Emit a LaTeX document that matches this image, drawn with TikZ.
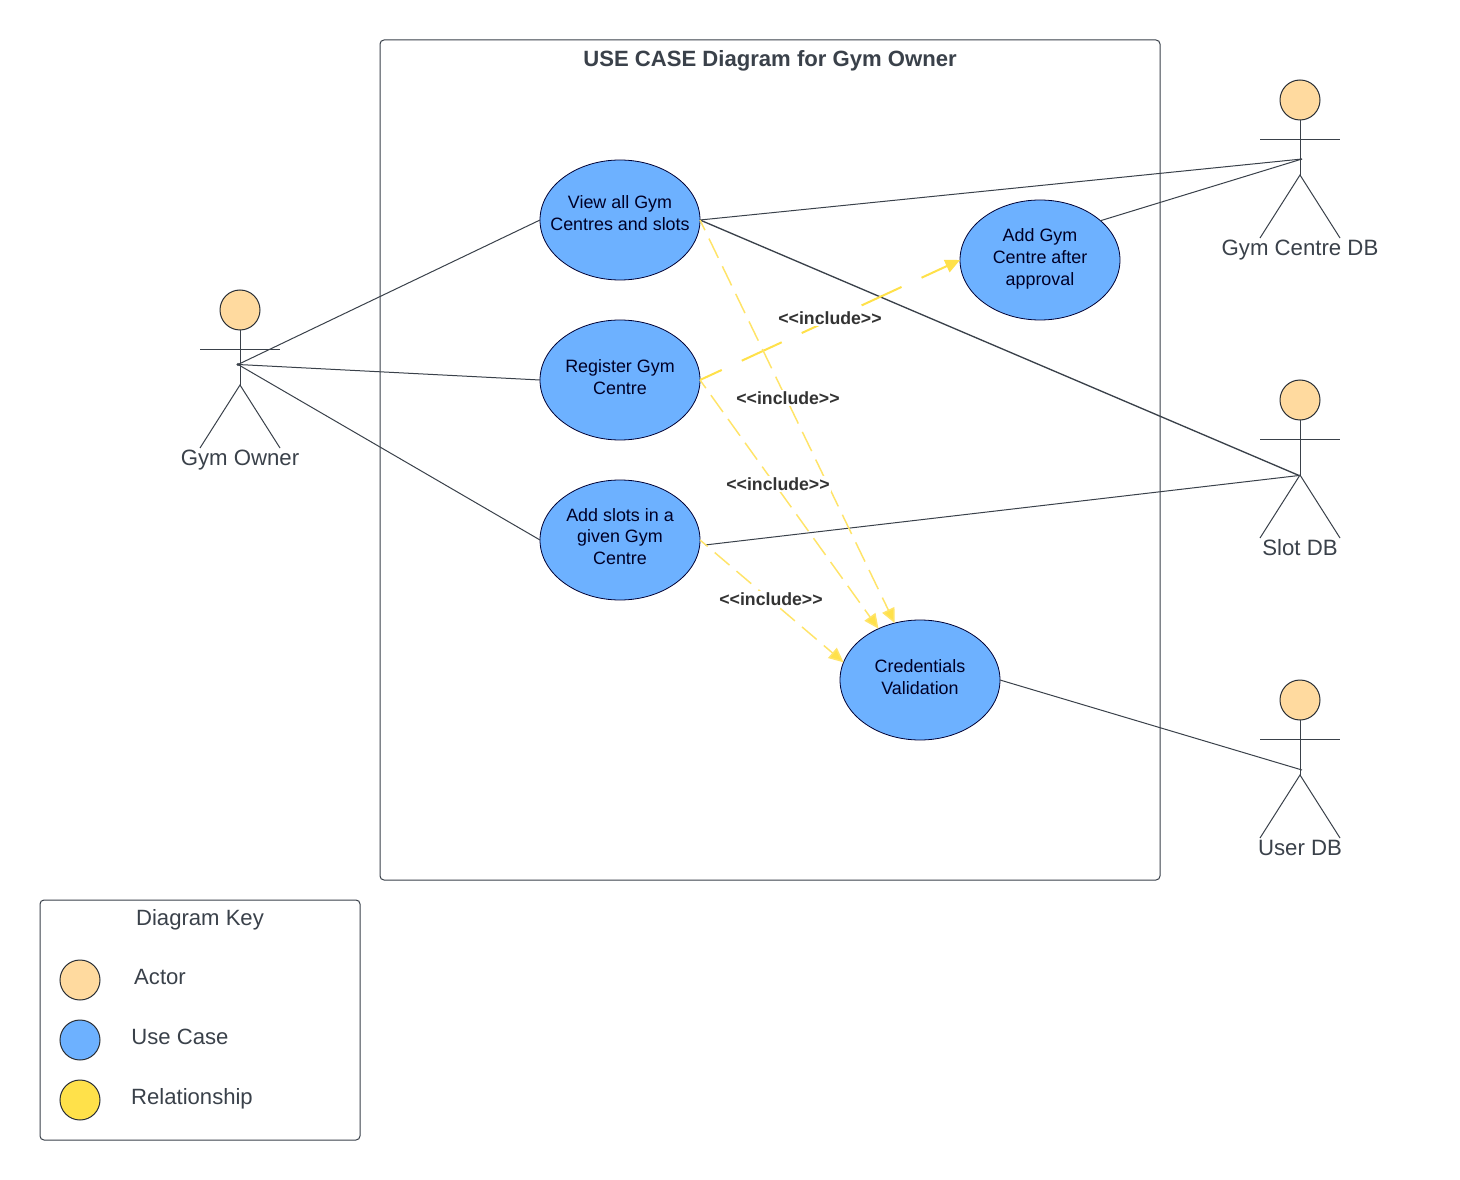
\documentclass[tikz,border=0pt]{standalone}
\usepackage{fontspec}
\setmainfont{Liberation Sans}
\usetikzlibrary{shapes.geometric,arrows.meta}
\definecolor{inkline}{HTML}{3A414A}
\definecolor{inktext}{HTML}{3A414A}
\definecolor{usecasefill}{HTML}{6DB1FF}
\definecolor{actorfill}{HTML}{FFDA9F}
\definecolor{relfill}{HTML}{FFE14A}
\definecolor{relline}{HTML}{FFE468}
\newcommand{\pxfont}[1]{\fontsize{\the\dimexpr #1pt*3/4\relax}{16.4pt}\selectfont}
% text of a use case, in a box of no size, so that the ellipse keeps its size; #1 = lift in px
\newcommand{\uctext}[2]{\makebox[0pt]{\raisebox{\dimexpr #1pt*3/4-5.1pt\relax}[0pt][0pt]{\begin{tabular}{@{}c@{}}#2\end{tabular}}}}
\tikzset{
  x=0.75pt,y=-0.75pt,
  every node/.style={outer sep=0pt,inner sep=0pt},
  wire/.style={draw=inkline,line width=0.75pt},
  frame/.style={draw=inkline,line width=0.75pt,rounded corners=3pt},
  usecase/.style={ellipse,draw=black!80!blue,line width=0.6pt,fill=usecasefill,minimum width=120pt,minimum height=90pt,text=black!85!blue,font=\pxfont{17.9}},
  head/.style={circle,draw=inkline!70!black,line width=0.75pt,fill=actorfill,minimum size=30pt},
  actorlabel/.style={text=inktext,font=\pxfont{22.2}},
  keylabel/.style={text=inktext,font=\pxfont{22.1}},
  rel/.style={draw=relline,line width=1.1pt,-{Triangle[length=11pt,width=10pt,fill=relfill]}},
  inc/.style={fill=white,inner sep=1pt,text=black!80,font=\pxfont{17.7}\bfseries},
}
\begin{document}
\begin{tikzpicture}
\useasboundingbox[fill=white] (0,0) rectangle (1460,1180);
% frames
\node[frame,minimum width=585pt,minimum height=630pt] (sys) at (770,460) {};
\node[frame,minimum width=240pt,minimum height=180pt] (key) at (200,1020) {};
\node[text=inktext,font=\pxfont{22.1}\bfseries] (title) at (770,60.5) {USE CASE Diagram for Gym Owner};
% use cases
\node[usecase] (view) at (620,220) {\uctext{7}{View all Gym\\Centres and slots}};
\node[usecase] (reg) at (620,380) {\uctext{3}{Register Gym\\Centre}};
\node[usecase] (slots) at (620,540) {\uctext{3.5}{Add slots in a\\given Gym\\Centre}};
\node[usecase] (addgym) at (1040,260) {\uctext{2.7}{Add Gym\\Centre after\\approval}};
\node[usecase] (cred) at (920,680) {\uctext{3}{Credentials\\Validation}};
% actors
\node[head] (oh) at (240,310) {};
\coordinate (ob) at (240,385);
\coordinate (oc) at (238,364.5);
\draw[wire] (oh.south) -- (ob) (200,349.5) coordinate (ola) -- (280,349.5) coordinate (ora);
\draw[wire] (200,448) coordinate (oll) -- (ob) -- (280,448) coordinate (orl);
\node[actorlabel] (ol) at (240,460) {Gym Owner};

\node[head] (gh) at (1300,100) {};
\coordinate (gb) at (1300,175);
\coordinate (gc) at (1302,159);
\draw[wire] (gh.south) -- (gb) (1260,139.5) coordinate (gla) -- (1340,139.5) coordinate (gra);
\draw[wire] (1260,238) coordinate (gll) -- (gb) -- (1340,238) coordinate (grl);
\node[actorlabel] (gl) at (1300,250) {Gym Centre DB};

\node[head] (sh) at (1300,400) {};
\coordinate (sb) at (1300,475);
\coordinate (sc) at (1299,475.5);
\draw[wire] (sh.south) -- (sb) (1260,439.5) coordinate (sla) -- (1340,439.5) coordinate (sra);
\draw[wire] (1260,538) coordinate (sll) -- (sb) -- (1340,538) coordinate (srl);
\node[actorlabel] (sl) at (1300,548) {Slot DB};

\node[head] (uh) at (1300,700) {};
\coordinate (ub) at (1300,775);
\coordinate (uc) at (1302,770);
\draw[wire] (uh.south) -- (ub) (1260,739.5) coordinate (ula) -- (1340,739.5) coordinate (ura);
\draw[wire] (1260,838) coordinate (ull) -- (ub) -- (1340,838) coordinate (url);
\node[actorlabel] (ul) at (1300,848) {User DB};
% associations
\fill[inkline] (oc) circle (1.2pt);
\draw[wire] (oc) -- (view.west);
\draw[wire] (oc) -- (reg.west);
\draw[wire] (oc) -- (slots.west);
\draw[wire] (view.east) -- (gc);
\draw[wire,line width=1pt] (view.east) -- (sc);
\draw[wire] (addgym.33) -- (gc);
\coordinate (slotsout) at (705,545);
\draw[wire] (slotsout) -- (sc);
\draw[wire] (cred.east) -- (uc);
% includes
\draw[rel,line width=1.5pt,draw=relfill,dash pattern=on 33pt off 16.5pt,dash phase=15pt] (reg.east) -- (addgym.west);
\draw[rel,dash pattern=on 16pt off 7pt,dash phase=7.5pt] (view.east) -- (cred.114);
\draw[rel,dash pattern=on 15.5pt off 6.5pt,dash phase=8pt] (reg.east) -- (cred.129.5);
\draw[rel,dash pattern=on 14.5pt off 7pt,dash phase=7pt] (slots.east) -- (cred.167.7);
\node[inc] (i1) at (830,318) {{<}{<}include{>}{>}};
\node[inc] (i2) at (788,398) {{<}{<}include{>}{>}};
\node[inc] (i3) at (778,484) {{<}{<}include{>}{>}};
\node[inc] (i4) at (771,599) {{<}{<}include{>}{>}};
% key
\node[keylabel] (kt) at (200,920) {Diagram Key};
\node[head] (k1) at (80,980) {};
\node[head,fill=usecasefill] (k2) at (80,1040) {};
\node[head,fill=relfill] (k3) at (80,1100) {};
\node[keylabel] (kl1) at (160,977) {Actor};
\node[keylabel] (kl2) at (180,1037) {Use Case};
\node[keylabel] (kl3) at (192,1099) {Relationship};
\end{tikzpicture}
\end{document}
